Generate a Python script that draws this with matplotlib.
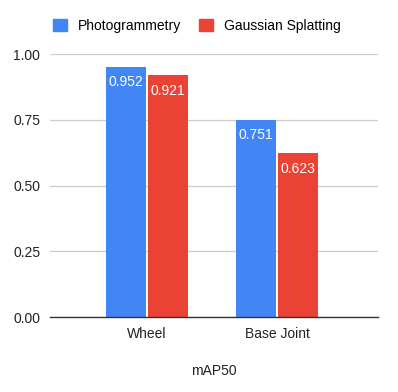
import numpy as np
import matplotlib
matplotlib.use("Agg")
import matplotlib.pyplot as plt
from matplotlib.patches import Patch

categories = ["Wheel", "Base Joint"]
series_names = ["Photogrammetry", "Gaussian Splatting"]
photogrammetry = [0.952, 0.751]
gaussian = [0.921, 0.623]
yticks = [0.00, 0.25, 0.50, 0.75, 1.00]

plt.rcParams['font.family'] = ['Liberation Sans', 'DejaVu Sans']

blue = "#4285F4"
red = "#EA4335"

fig = plt.figure(figsize=(3.98, 3.92), dpi=100)
ax = fig.add_axes([0.1256, 0.191, 0.824, 0.671])

x = np.arange(len(categories))
w = 0.31
gap = 0.008
b1 = ax.bar(x - w / 2 - gap, photogrammetry, width=w, color=blue, zorder=3)
b2 = ax.bar(x + w / 2 + gap, gaussian, width=w, color=red, zorder=3)

for bars, vals in [(b1, photogrammetry), (b2, gaussian)]:
    for r, v in zip(bars, vals):
        ax.text(r.get_x() + r.get_width() / 2, v - 0.033, "%.3f" % v,
                ha="center", va="top", color="white", fontsize=10, zorder=4)

ax.set_xlim(-0.746, 1.777)
ax.set_ylim(0, 1.0)
ax.set_yticks(yticks)
ax.set_yticklabels(["%.2f" % t for t in yticks], fontsize=10, color="#222222")
ax.set_xticks(x)
ax.set_xticklabels(categories, fontsize=10, color="#222222")
ax.tick_params(length=0, pad=7)
ax.grid(axis="y", color="#cccccc", linewidth=0.9, zorder=0)
for s in ["top", "right", "left"]:
    ax.spines[s].set_visible(False)
ax.spines["bottom"].set_color("#333333")
ax.spines["bottom"].set_linewidth(1.0)
ax.spines["bottom"].set_zorder(5)
ax.set_xlabel("mAP50", fontsize=10, color="#222222", labelpad=17)

handles = [Patch(color=blue), Patch(color=red)]
fig.legend(handles, series_names, loc="center", bbox_to_anchor=(0.495, 0.934),
           ncol=2, frameon=False, fontsize=10, handlelength=1.0, handleheight=1.0,
           columnspacing=1.3, handletextpad=0.8)

fig.savefig("out.png", dpi=100)
